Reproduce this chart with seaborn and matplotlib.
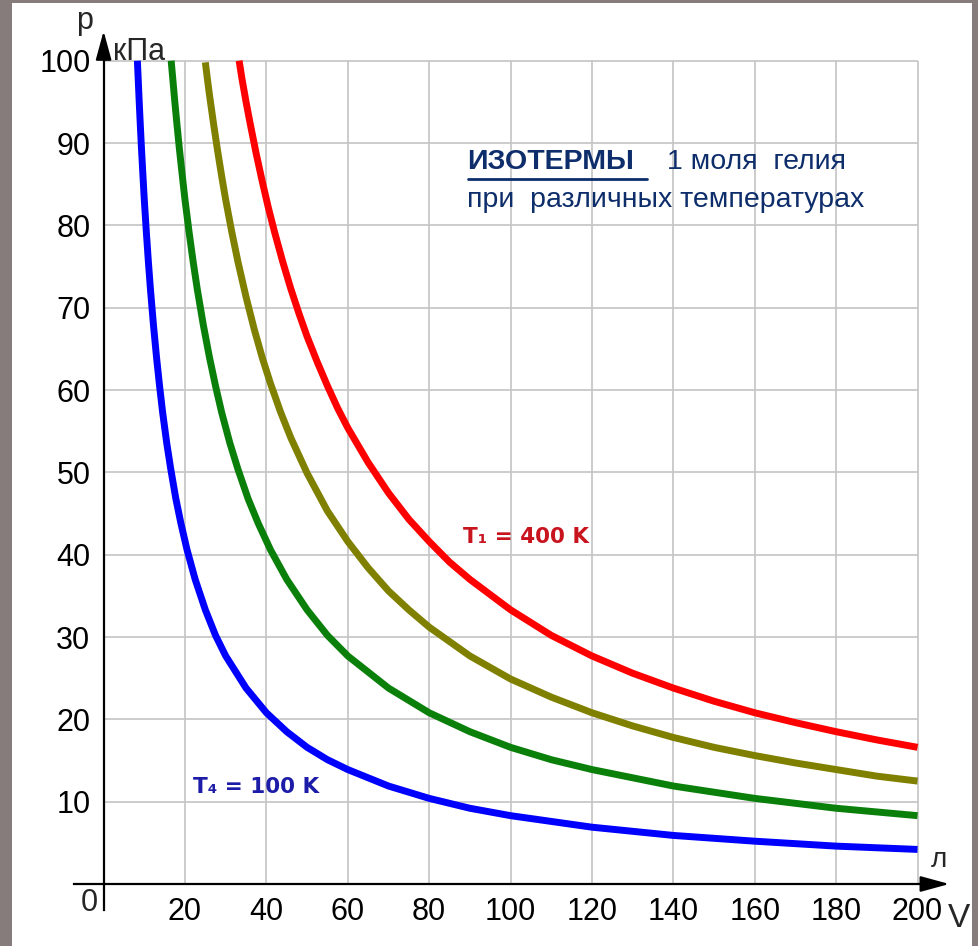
import pandas as pd
import matplotlib.pyplot as plt
import seaborn as sns
from matplotlib.patches import Rectangle

# изотермы, значения (V в л, p в кПа)
v_400 = [33.3, 34, 35, 36, 37.5, 39, 40.5, 42, 44, 46, 48, 50, 52.5, 55, 57.5, 60, 65, 70, 75, 80,
         85, 90, 100, 110, 120, 130, 140, 150, 160, 170, 180, 190, 200]
p_400 = [100, 97.8, 95.0, 92.4, 88.7, 85.3, 82.1, 79.2, 75.6, 72.3, 69.3, 66.5, 63.4, 60.5, 57.8, 55.4,
         51.2, 47.5, 44.3, 41.6, 39.1, 37.0, 33.3, 30.2, 27.7, 25.6, 23.8, 22.2, 20.8, 19.6, 18.5, 17.5, 16.6]

v_300 = [25, 25.5, 26, 27, 28, 29, 30, 31.5, 33, 35, 37, 39, 41, 43.5, 46, 50, 55, 60, 65, 70,
         75, 80, 90, 100, 110, 120, 130, 140, 150, 160, 170, 180, 190, 200]
p_300 = [99.8, 97.8, 95.9, 92.4, 89.1, 86.0, 83.1, 79.2, 75.6, 71.3, 67.4, 63.9, 60.8, 57.3, 54.2, 49.9,
         45.3, 41.6, 38.4, 35.6, 33.3, 31.2, 27.7, 24.9, 22.7, 20.8, 19.2, 17.8, 16.6, 15.6, 14.7, 13.9, 13.1, 12.5]

v_200 = [16.6, 17, 17.5, 18, 18.6, 19.3, 20, 21, 22, 23, 24.5, 26, 27.5, 29, 31, 33, 35.5, 38, 41, 45,
         50, 55, 60, 70, 80, 90, 100, 110, 120, 140, 160, 180, 200]
p_200 = [100, 97.8, 95.0, 92.4, 89.4, 86.2, 83.1, 79.2, 75.6, 72.3, 67.9, 64.0, 60.5, 57.3, 53.6, 50.4,
         46.8, 43.8, 40.6, 37.0, 33.3, 30.2, 27.7, 23.8, 20.8, 18.5, 16.6, 15.1, 13.9, 11.9, 10.4, 9.2, 8.3]

v_100 = [8.3, 8.5, 8.75, 9, 9.3, 9.65, 10, 10.5, 11, 11.5, 12.25, 13, 13.75, 14.5, 15.5, 16.5, 17.75, 19,
         20.5, 22.5, 25, 27.5, 30, 35, 40, 45, 50, 55, 60, 70, 80, 90, 100, 120, 140, 160, 180, 200]
p_100 = [100, 97.8, 95.0, 92.4, 89.4, 86.2, 83.1, 79.2, 75.6, 72.3, 67.9, 64.0, 60.5, 57.3, 53.6, 50.4,
         46.8, 43.8, 40.6, 37.0, 33.3, 30.2, 27.7, 23.8, 20.8, 18.5, 16.6, 15.1, 13.9, 11.9, 10.4, 9.2,
         8.3, 6.9, 5.9, 5.2, 4.6, 4.2]

temps = ['400', '300', '200', '100']
colors = ['#ff0000', '#808000', '#0a800a', '#0000ff']

x_ticks = list(range(20, 201, 20))
y_ticks = list(range(10, 101, 10))

frames = []
for t, v, p in zip(temps, [v_400, v_300, v_200, v_100], [p_400, p_300, p_200, p_100]):
    frames.append(pd.DataFrame({'V': v, 'p': p, 'T': t}))
df = pd.concat(frames, ignore_index=True)

sns.set_style('white')
plt.rcParams['font.family'] = ['Liberation Sans', 'DejaVu Sans']

fig = plt.figure(figsize=(9.79, 9.46), dpi=100)
fig.patch.set_facecolor('#857c7b')
fig.add_artist(Rectangle((12 / 979, 0), 960 / 979, 943 / 946, transform=fig.transFigure,
                         facecolor='white', edgecolor='none', zorder=0))

ax = fig.add_axes([62.9 / 979, 12.6 / 946, 903.5 / 979, 922.1 / 946])
ax.set_facecolor('none')

# сетка
ax.hlines(y_ticks, 0, 200, color='#c4c4c4', lw=1.2, zorder=1)
ax.vlines(x_ticks, 0, 100, color='#c4c4c4', lw=1.2, zorder=1)

sns.lineplot(data=df, x='V', y='p', hue='T', palette=dict(zip(temps, colors)),
             lw=5, legend=False, ax=ax, solid_capstyle='butt', solid_joinstyle='round', zorder=3)

ax.set_xlim(-10, 212)
ax.set_ylim(-6, 106)
ax.set_xlabel('')
ax.set_ylabel('')

for s in ['top', 'right']:
    ax.spines[s].set_visible(False)
ax.spines['left'].set_position(('data', 0))
ax.spines['bottom'].set_position(('data', 0))
ax.spines['left'].set_bounds(-3.2, 101.5)
ax.spines['bottom'].set_bounds(-7.3, 203.5)
for s in ['left', 'bottom']:
    ax.spines[s].set_linewidth(1.6)
    ax.spines[s].set_color('black')

ax.set_xticks(x_ticks)
ax.set_yticks(y_ticks)
ax.tick_params(axis='both', direction='inout', length=11, width=1.3, color='black',
               labelsize=22, labelcolor='black')
ax.tick_params(axis='y', pad=4)
ax.tick_params(axis='x', pad=4)

# стрелки осей
arrow = dict(arrowstyle='-|>,head_length=1.1,head_width=0.3', color='black', lw=1.6,
             mutation_scale=16, shrinkA=0, shrinkB=0)
ax.annotate('', xy=(0, 103.6), xytext=(0, 100.5), arrowprops=arrow, annotation_clip=False)
ax.annotate('', xy=(207.8, 0), xytext=(202, 0), arrowprops=arrow, annotation_clip=False)

ax.text(-3.4, -2.3, '0', fontsize=22, ha='center', va='center')
ax.text(-4.6, 104.8, 'p', fontsize=22, ha='center', va='center')
ax.text(2.4, 101.1, 'кПа', fontsize=22, ha='left', va='center')
ax.text(205.3, 2.9, 'л', fontsize=20, ha='center', va='center')
ax.text(210.2, -4.2, 'V', fontsize=24, ha='center', va='center')

navy = '#0d2d6b'
ax.text(89.3, 87.7, 'ИЗОТЕРМЫ', fontsize=20.5, fontweight='bold', color=navy, va='center')
ax.plot([89.5, 133.5], [85.6, 85.6], color=navy, lw=2)
ax.text(138.4, 87.7, '1 моля  гелия', fontsize=20.5, color=navy, va='center')
ax.text(89.3, 83.1, 'при  различных температурах', fontsize=20.5, color=navy, va='center')

ax.text(88.3, 42.1, 'T₁ = 400 K', fontsize=15.5, fontweight='bold', color='#c8141e',
        va='center', family=['DejaVu Sans'])
ax.text(21.9, 11.8, 'T₄ = 100 K', fontsize=15.5, fontweight='bold', color='#1c1ca8',
        va='center', family=['DejaVu Sans'])

plt.savefig('out.png', dpi=100, facecolor=fig.get_facecolor())
